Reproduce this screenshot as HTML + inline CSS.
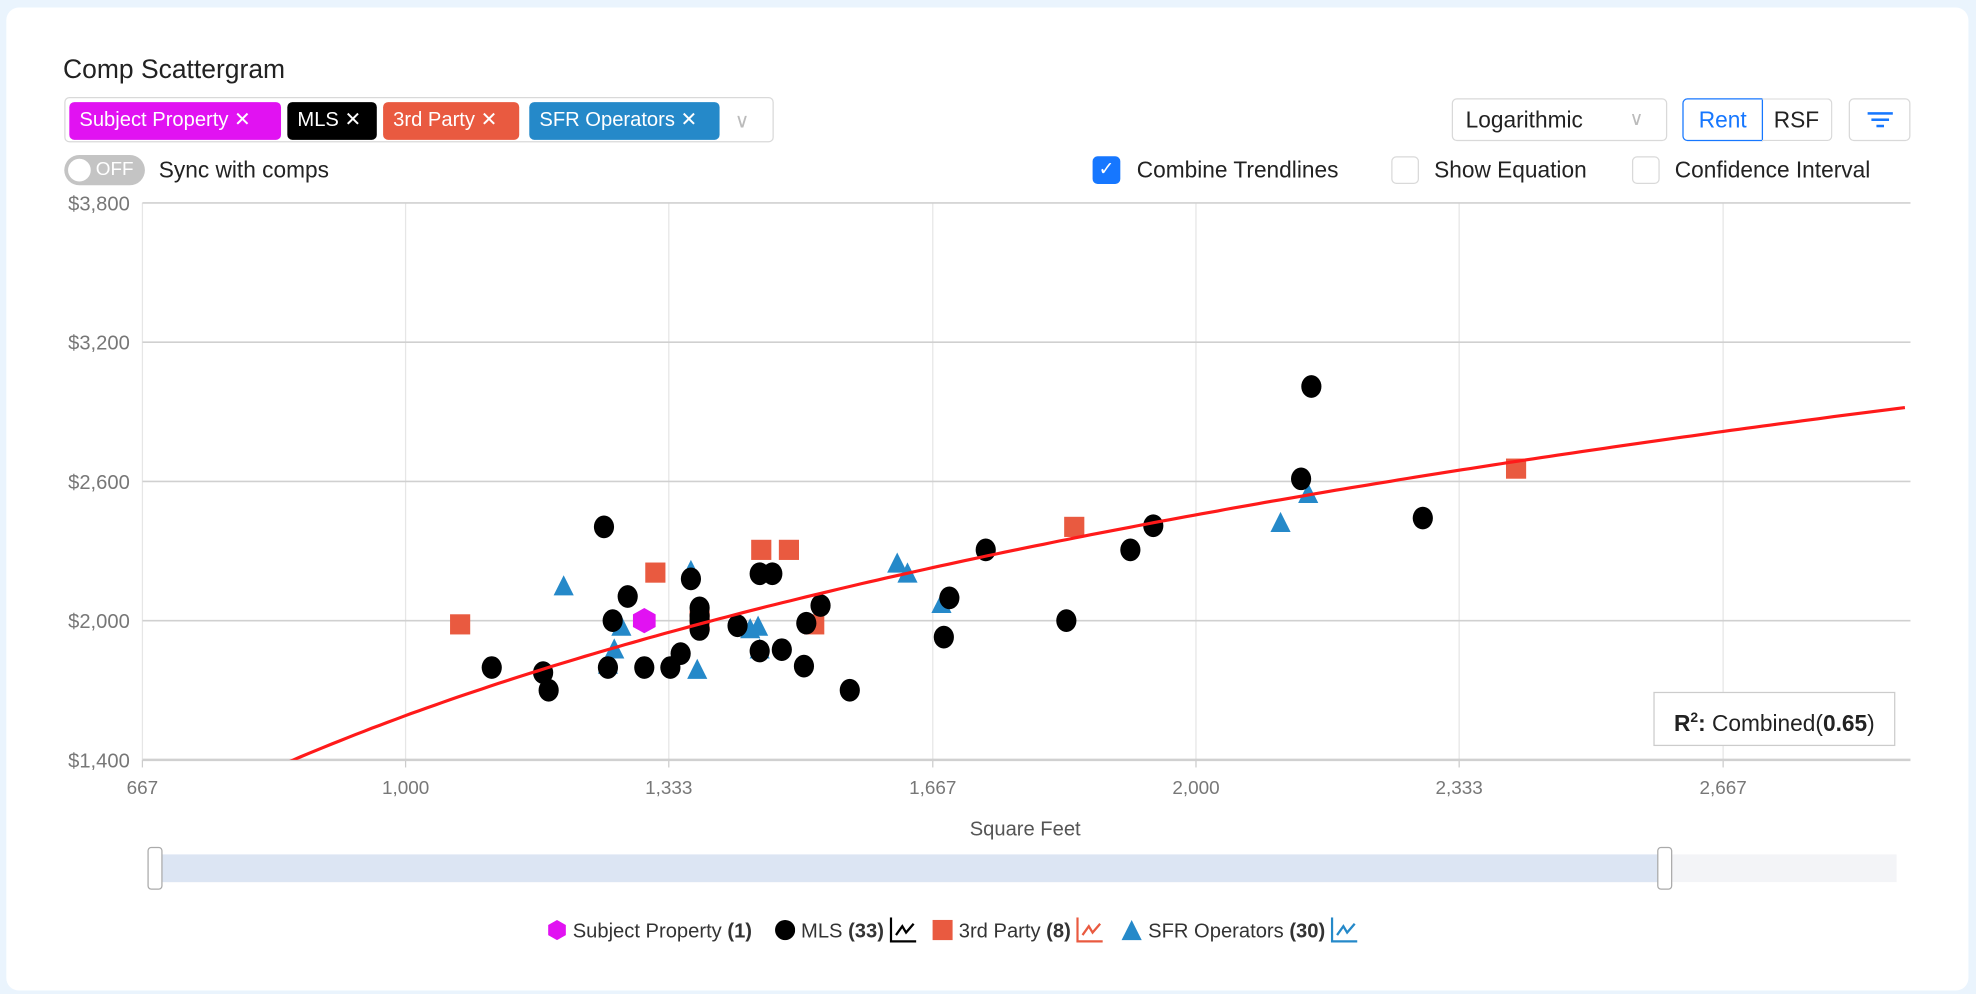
<!DOCTYPE html>
<html><head><meta charset="utf-8">
<style>
html,body{margin:0;padding:0;width:1976px;height:994px;overflow:hidden;background:#eaf4fd;font-family:"Liberation Sans",sans-serif;}
#wrap{position:absolute;left:0;top:0;width:1568px;height:789px;transform:scale(1.2602);transform-origin:0 0;}
.card{position:absolute;left:5px;top:6px;width:1557px;height:780px;background:#fff;border-radius:10px;}
.abs{position:absolute;}
.tag{position:absolute;top:81px;height:30px;line-height:30px;color:#fff;font-size:16px;border-radius:4px;padding:0 8px;box-sizing:border-box;white-space:nowrap}
.cb{position:absolute;top:124px;width:22px;height:22px;border:1px solid #d9d9d9;border-radius:4px;box-sizing:border-box;}
.lbl{position:absolute;font-size:18px;color:#222;}
</style></head><body>
<div id="wrap">
<div class="card"></div>
<div class="abs" style="left:50px;top:44px;font-size:21px;color:#222;">Comp Scattergram</div>
<div class="abs" style="left:51px;top:77px;width:563px;height:36px;border:1px solid #d9d9d9;border-radius:4px;box-sizing:border-box;"></div>
<div class="tag" style="left:55px;width:168px;background:#e112f2;">Subject Property ✕</div>
<div class="tag" style="left:228px;width:71px;background:#000;">MLS ✕</div>
<div class="tag" style="left:304px;width:108px;background:#e95a40;">3rd Party ✕</div>
<div class="tag" style="left:420px;width:151px;background:#2589c9;">SFR Operators ✕</div>
<div class="abs" style="left:583px;top:86px;color:#bbb;font-size:16px;">∨</div>
<div class="abs" style="left:51px;top:123px;width:64px;height:24px;background:#c4c4c4;border-radius:12px;"><div style="position:absolute;left:3px;top:3px;width:18px;height:18px;border-radius:9px;background:#fff"></div><span style="position:absolute;left:25px;top:3px;color:#fff;font-size:15px">OFF</span></div>
<div class="lbl" style="left:126px;top:125px;">Sync with comps</div>
<div class="abs" style="left:1152px;top:78px;width:171px;height:34px;border:1px solid #d9d9d9;border-radius:4px;box-sizing:border-box;font-size:18px;line-height:32px;padding-left:10px;color:#222">Logarithmic<span style="position:absolute;left:140px;color:#bbb;font-size:15px">∨</span></div>
<div class="abs" style="left:1335px;top:78px;width:64px;height:34px;border:1px solid #1677ff;border-radius:4px 0 0 4px;box-sizing:border-box;font-size:18px;line-height:32px;text-align:center;color:#1677ff">Rent</div>
<div class="abs" style="left:1398px;top:78px;width:56px;height:34px;border:1px solid #d9d9d9;border-left:none;border-radius:0 4px 4px 0;box-sizing:border-box;font-size:18px;line-height:32px;text-align:center;color:#222">RSF</div>
<div class="abs" style="left:1467px;top:78px;width:49px;height:34px;border:1px solid #d9d9d9;border-radius:4px;box-sizing:border-box;"><div style="position:absolute;left:14px;top:10px;width:20px;height:2px;background:#1677ff"></div><div style="position:absolute;left:17px;top:15px;width:14px;height:2px;background:#1677ff"></div><div style="position:absolute;left:21px;top:20px;width:6px;height:2px;background:#1677ff"></div></div>
<div class="cb" style="left:867px;background:#1677ff;border-color:#1677ff;color:#fff;font-size:15px;line-height:20px;text-align:center">✓</div>
<div class="lbl" style="left:902px;top:125px;">Combine Trendlines</div>
<div class="cb" style="left:1104px;"></div>
<div class="lbl" style="left:1138px;top:125px;">Show Equation</div>
<div class="cb" style="left:1295px;"></div>
<div class="lbl" style="left:1329px;top:125px;">Confidence Interval</div>

<svg id="chart" class="abs" style="left:0;top:0" width="1568" height="789"></svg>

<div class="abs" style="left:1312px;top:549px;width:192px;height:43px;border:1px solid #ccc;background:#fff;box-sizing:border-box;font-size:18px;line-height:41px;text-align:center;color:#222"><b>R<sup style="font-size:11px">2</sup>:</b> Combined(<b>0.65</b>)</div>

<div class="abs" style="left:123px;top:678px;width:1382px;height:22px;background:#f3f4f7;"></div>
<div class="abs" style="left:123px;top:678px;width:1199px;height:22px;background:#dce5f3;"></div>
<div class="abs" style="left:117px;top:672px;width:12px;height:34px;border:1px solid #aaa;border-radius:3px;background:#fff;box-sizing:border-box"></div>
<div class="abs" style="left:1315px;top:672px;width:12px;height:34px;border:1px solid #aaa;border-radius:3px;background:#fff;box-sizing:border-box"></div>

<div class="abs" style="left:434px;top:728px;font-size:16px;color:#333;white-space:nowrap;height:22px;line-height:22px">
<span><svg width="16" height="18" style="vertical-align:-3px"><polygon points="8,1 15,5 15,13 8,17 1,13 1,5" fill="#e112f2"/></svg> Subject Property <b>(1)</b></span>
<span style="margin-left:14px"><svg width="16" height="18" style="vertical-align:-3px"><circle cx="8" cy="9" r="8" fill="#000"/></svg> MLS <b>(33)</b> <svg width="22" height="20" style="vertical-align:-4px"><path d="M1,0V19H21M5,14L10,7L13,12L19,5" stroke="#000" stroke-width="1.8" fill="none"/></svg></span>
<span style="margin-left:8px"><svg width="16" height="18" style="vertical-align:-3px"><rect x="0" y="1" width="16" height="16" fill="#e95a40"/></svg> 3rd Party <b>(8)</b> <svg width="22" height="20" style="vertical-align:-4px"><path d="M1,0V19H21M5,14L10,7L13,12L19,5" stroke="#e95a40" stroke-width="1.8" fill="none"/></svg></span>
<span style="margin-left:8px"><svg width="18" height="18" style="vertical-align:-3px"><polygon points="9,1 17,17 1,17" fill="#2589c9"/></svg> SFR Operators <b>(30)</b> <svg width="22" height="20" style="vertical-align:-4px"><path d="M1,0V19H21M5,14L10,7L13,12L19,5" stroke="#2589c9" stroke-width="1.8" fill="none"/></svg></span>
</div>
</div>
<script>
const xTicks=[667,1000,1333,1667,2000,2333,2667];
const yTicks=[1400,2000,2600,3200,3800];
const subjectX=[1302];const subjectY=[2000];
const mlsX=[1251,1281,1262,1256,1302,1335,1348,1361,1372,1372,1372,1420,1448,1464,1448,1476,1507,1504,1525,1562,1109,1174,1181,1681,1688,1734,1836,1917,1946,2133,2146,2287,1372];
const mlsY=[2404,2104,2000,1798,1798,1798,1858,2180,2055,2000,1962,1978,2202,2202,1869,1875,1989,1804,2065,1700,1798,1776,1700,1929,2098,2305,2000,2305,2409,2611,3009,2442,2020];
const partyX=[1069,1316,1450,1485,1517,1846,2405,1372];
const partyY=[1984,2207,2305,2305,1984,2404,2655,2000];
const sfrX=[1200,1264,1273,1256,1361,1369,1436,1446,1448,1622,1635,1678,2107,2142];
const sfrY=[2147,1875,1973,1809,2213,1787,1962,1973,1875,2245,2202,2071,2420,2545];
const trendA=-7030, trendB=1248;
const L=113,R=1516,T=161,B=603,X0=667,X1=2904,Y0=1400,Y1=3800;
const sx=v=>L+(v-X0)/(X1-X0)*(R-L);
const sy=v=>B-(v-Y0)/(Y1-Y0)*(B-T);
const svg=document.getElementById('chart');const NS='http://www.w3.org/2000/svg';
function mk(tag,at){const e=document.createElementNS(NS,tag);for(const k in at)e.setAttribute(k,at[k]);svg.appendChild(e);return e;}
xTicks.forEach(v=>{const x=sx(v);
 const g=mk('line',{x1:x,x2:x,y1:T,y2:B,stroke:'#e6e6e6','stroke-width':1});
 
 const tk=mk('line',{x1:x,x2:x,y1:B,y2:B+6,stroke:'#ccc'});
 
 const t=mk('text',{x:x,y:B+27,'text-anchor':'middle','font-size':15,fill:'#777','font-family':'Liberation Sans, sans-serif'});t.textContent=v.toLocaleString('en-US');
 });
yTicks.forEach(v=>{const y=sy(v);
 const g=mk('line',{x1:L,x2:R,y1:y,y2:y,stroke:'#d0d0d0','stroke-width':v==Y0?2:1.3});
 
 const t=mk('text',{x:103,y:y+6,'text-anchor':'end','font-size':16,fill:'#777','font-family':'Liberation Sans, sans-serif'});t.textContent='$'+v.toLocaleString('en-US');
 });
const xt=mk('text',{x:(L+R)/2-1,y:663,'text-anchor':'middle','font-size':16,fill:'#555','font-family':'Liberation Sans, sans-serif'});xt.textContent='Square Feet';

const cp=mk('clipPath',{id:'pc'});const cr=document.createElementNS(NS,'rect');cr.setAttribute('x',L);cr.setAttribute('y',T);cr.setAttribute('width',R-L);cr.setAttribute('height',B-T);cp.appendChild(cr);
partyX.forEach((v,i)=>{const x=sx(v),y=sy(partyY[i]);const r=mk('rect',{x:x-8,y:y-8,width:16,height:16,fill:'#e95a40'});
 });
sfrX.forEach((v,i)=>{const x=sx(v),y=sy(sfrY[i]);const p=mk('polygon',{points:`${x},${y-9} ${x+8},${y+7} ${x-8},${y+7}`,fill:'#2589c9'});
 });
mlsX.forEach((v,i)=>{const c=mk('ellipse',{cx:sx(v),cy:sy(mlsY[i]),rx:8,ry:9,fill:'#000'});
 });
subjectX.forEach((v,i)=>{const x=sx(v),y=sy(subjectY[i]);const p=mk('polygon',{points:`${x},${y-10} ${x+9},${y-5} ${x+9},${y+5} ${x},${y+10} ${x-9},${y+5} ${x-9},${y-5}`,fill:'#e112f2'});
 });
let d='';for(let v=X0;v<=X1;v+=10){const y=trendA+trendB*Math.log(v);d+=(d?'L':'M')+sx(v).toFixed(1)+','+sy(y).toFixed(1);}
const tl=mk('path',{d:d,stroke:'#ff1a1a','stroke-width':2.5,fill:'none','clip-path':'url(#pc)'});

</script>
</body></html>
